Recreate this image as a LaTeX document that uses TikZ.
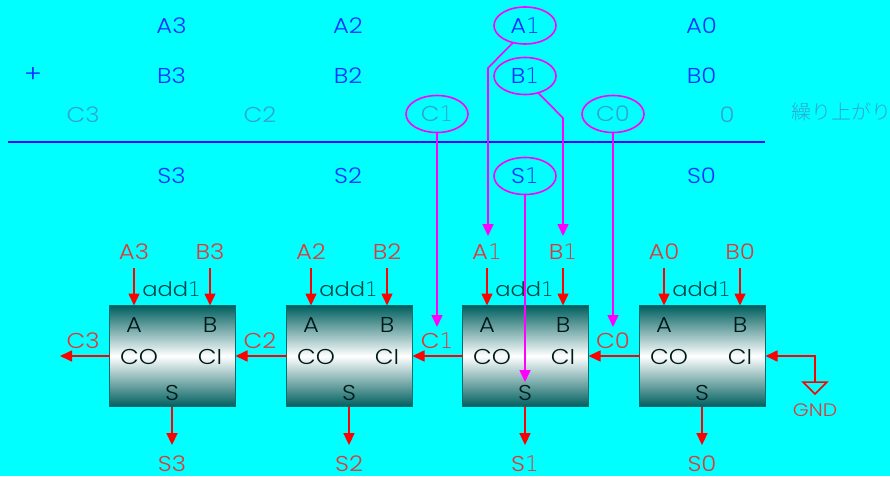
\documentclass[tikz,border=0pt]{standalone}
\usepackage{fontspec}
\setmainfont{Poppins}[UprightFont=* Light,FakeStretch=1.13]
\newfontfamily\onefont{DejaVu Sans}[UprightFont=* ExtraLight]
\newfontfamily\jpfont{Noto Sans CJK JP}[UprightFont=* Light]
\newcommand{\onedigit}{{\onefont 1}}
\usetikzlibrary{arrows.meta,shapes.geometric}
\definecolor{cyanbg}{RGB}{0,255,255}
\definecolor{sumblue}{RGB}{10,50,255}
\definecolor{rulecol}{RGB}{20,10,255}
\definecolor{carrytxt}{RGB}{50,165,205}
\definecolor{redtxt}{RGB}{225,55,55}
\definecolor{tealdark}{RGB}{0,95,95}
\definecolor{tealedge}{RGB}{0,110,110}
\definecolor{addtxt}{RGB}{0,70,70}
\definecolor{hot}{RGB}{255,0,255}
\tikzset{
  x=1pt,y=-1pt,
  every node/.style={inner sep=0pt,outer sep=0pt,font=\fontsize{21.5}{22}\selectfont},
  sumtxt/.style={text=sumblue},
  carry/.style={text=carrytxt},
  ring/.style={ellipse,draw=hot,line width=1.6pt,minimum width=62pt,minimum height=37pt},
  lbl/.style={text=redtxt,minimum height=#1},
  lbl/.default=32pt,
  pin/.style={text=black!80!teal,minimum height=#1},
  pin/.default=22pt,
  block/.style={rectangle,draw=tealedge,line width=1.5pt,minimum width=126pt,minimum height=101pt,
    top color=tealdark,bottom color=tealdark,middle color=white},
  blocktitle/.style={text=addtxt,font=\fontsize{20}{20}\selectfont},
  redarrow/.style={draw=red,line width=1.6pt,-{Triangle[length=12pt,width=11pt,fill=red]}},
  hotarrow/.style={draw=hot,line width=1.6pt,-{Triangle[length=12pt,width=11pt,fill=hot]}},
}
\begin{document}
\begin{tikzpicture}
\fill[cyanbg] (0,0) rectangle (890,476);
\useasboundingbox (0,0) rectangle (890,476);
% sum rows
\foreach \n/\x in {3/171.5,2/348,0/701.5}{
  \node[sumtxt] (ta\n) at (\x,26) {A\n};
  \node[sumtxt] (tb\n) at (\x,76) {B\n};
  \node[sumtxt] (ts\n) at (\x,176) {S\n};
}
\node[ring,sumtxt] (ta1) at (525,25.5) {A\onedigit};
\node[ring,sumtxt] (tb1) at (525,76) {B\onedigit};
\node[ring,sumtxt] (ts1) at (525,176) {S\onedigit};
\node[sumtxt,font=\fontsize{24}{24}\selectfont] (plus) at (33,75.5) {+};
\node[carry] (tc3) at (83,114.5) {C3};
\node[carry] (tc2) at (260,114.5) {C2};
\node[ring,carry] (tc1) at (437,114) {C\onedigit};
\node[ring,carry] (tc0) at (613,114) {C0};
\node[carry] (tz) at (727,114.5) {0};
\node[carry,anchor=west,font=\jpfont\fontsize{20}{20}\selectfont] (tcarry) at (791,112) {繰り上がり};
\coordinate (ruleL) at (8,142);
\coordinate (ruleR) at (765,142);
\draw[rulecol,line width=1.6pt] (ruleL) -- (ruleR);
% blocks
\foreach \n/\x/\ab in {3/172/3,2/349/2,1/525/{\onedigit},0/702/0}{
  \node[block] (b\n) at (\x+0.5,356) {};
  \node[lbl] (la\n) at (\x-38,252) {A\ab};
  \node[lbl] (lb\n) at (\x+38,252) {B\ab};
  \node[blocktitle] (add\n) at (\x-0.5,289) {add\onedigit};
  \node[pin] (pa\n) at (\x-38,325) {A};
  \node[pin] (pb\n) at (\x+38,325) {B};
  \node[pin] (pco\n) at (\x-33,357) {CO};
  \node[pin] (pci\n) at (\x+38,357) {CI};
  \node[pin] (ps\n) at (\x,393) {S};
  \node[text=redtxt] (ls\n) at (\x,463.5) {S\ab};
  \draw[redarrow] (la\n.south) -- (la\n.south |- b\n.north);
  \draw[redarrow] (lb\n.south) -- (lb\n.south |- b\n.north);
  \draw[redarrow,shorten >=10.5pt] (ps\n |- b\n.south) -- (ls\n.north);
}
\node[lbl=28pt] (lc3) at (83,341) {C3};
\node[lbl=28pt] (lc2) at (260,341) {C2};
\node[lbl=28pt] (lc1) at (437,341) {C\onedigit};
\node[lbl=28pt] (lc0) at (613,341) {C0};
\coordinate (c3end) at (60,356);
\draw[redarrow] (b3.west) -- (c3end);
\draw[redarrow] (b2.west) -- (b3.east);
\draw[redarrow] (b1.west) -- (b2.east);
\draw[redarrow] (b0.west) -- (b1.east);
% GND
\coordinate (gtop) at (815,382);
\coordinate (gl) at (803,382);
\coordinate (gr) at (827,382);
\coordinate (gb) at (815,394);
\draw[red,line width=1.5pt,line join=miter] (gl) -- (gr) -- (gb) -- cycle;
\draw[redarrow] (gtop) |- (b0.east);
\node[text=redtxt,font=\fontsize{18}{18}\selectfont] (gnd) at (815,410) {GND};
% magenta connectors
\coordinate (ka) at (488,68);
\coordinate (kb) at (563,118);
\draw[hotarrow] (ta1.235) -- (ka) -- (ka |- la1.north);
\draw[hotarrow] (tb1.308) -- (kb) -- (kb |- lb1.north);
\draw[hotarrow] (tc1.south) -- (lc1.north);
\draw[hotarrow] (tc0.south) -- (lc0.north);
\draw[hotarrow] (ts1.south) -- (ps1.north);
\end{tikzpicture}
\end{document}
